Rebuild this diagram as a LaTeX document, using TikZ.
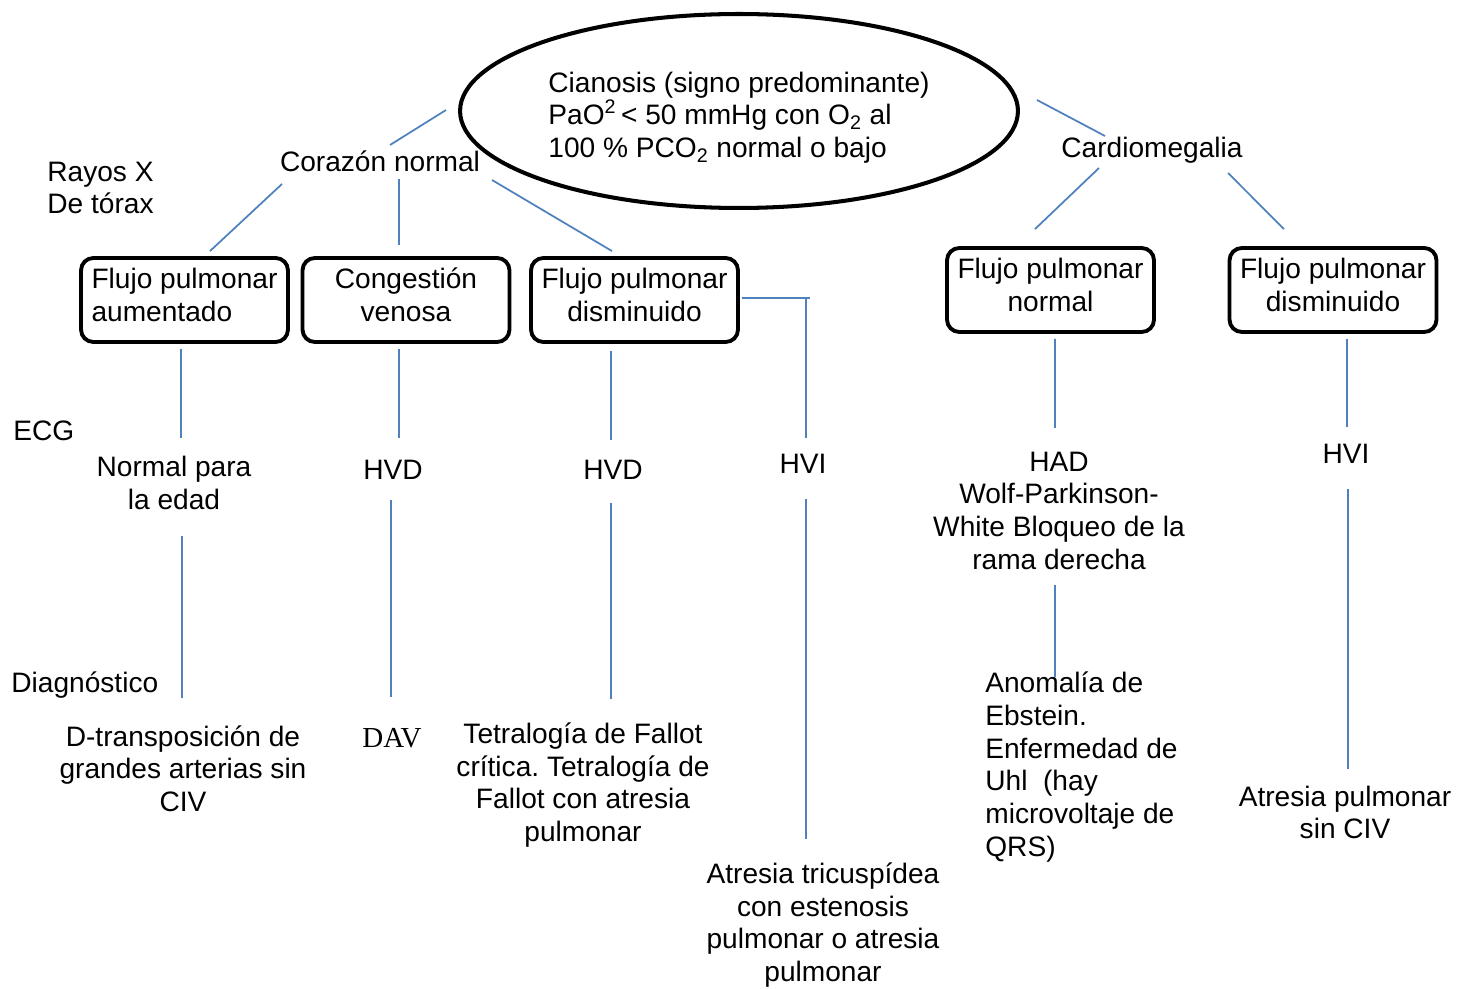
\documentclass[tikz,border=0pt]{standalone}
\usepackage{fontspec}
\setmainfont{Liberation Sans}
\newfontfamily\davfont{Liberation Serif}
\usetikzlibrary{shapes.geometric,calc}
\definecolor{linkblue}{RGB}{79,129,189}
\frenchspacing

\begin{document}
\begin{tikzpicture}[x=0.02cm,y=-0.02cm,
  every node/.style={font=\fontsize{16}{18.6}\selectfont,inner sep=0pt,align=center},
  box/.style={draw,rounded corners=7pt,line width=2.2pt,minimum width=4.14cm,minimum height=1.68cm,text depth=6pt},
  link/.style={draw=linkblue,line width=1pt}]
\useasboundingbox (0,0) rectangle (1473,989);
% top
\node[draw,ellipse,line width=2.3pt,minimum width=11.16cm,minimum height=3.88cm,align=left] (cia) at (739,111)
  {\rule{0pt}{19pt}Cianosis (signo predominante)\\PaO\textsuperscript{2}\,< 50 mmHg con O\textsubscript{2} al\\100 \% PCO\textsubscript{2} normal o bajo};
\node (cor) at (380,161) {Corazón normal};
\node (card) at (1152,150) {Cardiomegalia};
% row labels
\node[anchor=west,align=left] (rx) at (47,188) {Rayos X\\De tórax};
\node[anchor=west] (ecg) at (13,431) {ECG};
\node[anchor=west] (diag) at (11,685) {Diagnóstico};
% x-ray boxes
\node[box,align=left] (b1) at (184.5,300) {Flujo pulmonar\\aumentado};
\node[box] (b2) at (406,300) {Congestión\\venosa};
\node[box] (b3) at (634.5,300) {Flujo pulmonar\\disminuido};
\node[box] (b4) at (1050.5,290) {Flujo pulmonar\\normal};
\node[box] (b5) at (1333,290) {Flujo pulmonar\\disminuido};
% ECG
\node (e1) at (174,483) {Normal para\\la edad};
\node (e2) at (393,470) {HVD};
\node (e3) at (613,470) {HVD};
\node (e4) at (803,464) {HVI};
\node (e5) at (1059,510.5) {HAD\\Wolf-Parkinson-\\White Bloqueo de la\\rama derecha};
\node (e6) at (1346,454) {HVI};
% diagnosis
\node (d1) at (183,768.5) {D-transposición de\\grandes arterias sin\\CIV};
\node[font=\davfont\fontsize{16.5}{19}\selectfont] (d2) at (392,738) {DAV};
\node (d3) at (583,785) {Tetralogía de Fallot\\crítica. Tetralogía de\\Fallot con atresia\\pulmonar};
\node (d4) at (823,925) {Atresia tricuspídea\\con estenosis\\pulmonar o atresia\\pulmonar};
\node[anchor=west,align=left] (d5) at (985,767) {Anomalía de\\Ebstein.\\Enfermedad de\\Uhl\ \ (hay\\microvoltaje de\\QRS)};
\node (d6) at (1345,812.5) {Atresia pulmonar\\sin CIV};

% connectors
\draw[link] ($(cia.west)+(-12,-1)$) -- ($(cor.center)+(10,-16)$);
\draw[link] ($(cor.center)+(-98,23)$) -- ($(b1.north)+(25.5,-5)$);
\draw[link] ($(cor.center)+(19,18)$) -- ($(b2.north)+(-7,-11)$);
\draw[link] ($(cor.center)+(112,19)$) -- ($(b3.north)+(-22.5,-5)$);
\draw[link] ($(cia.east)+(17,-11)$) -- ($(card.center)+(-47,-14)$);
\draw[link] ($(card.center)+(-53,18)$) -- ($(b4.north)+(-15.5,-17)$);
\draw[link] ($(card.center)+(76,23)$) -- ($(b5.north)+(-49,-17)$);
\draw[link] ($(b1.south)+(-3.5,5)$) -- ($(e1.center)+(7,-45)$);
\draw[link] ($(b2.south)+(-7,5)$) -- ($(e2.center)+(6,-32)$);
\draw[link] ($(b3.south)+(-23.5,7)$) -- ($(e3.center)+(-2,-30)$);
\draw[link] ($(b3.east)+(2,-2)$) -- ++(68,0);
\draw[link] ($(b3.east)+(2,-2)$) -| ($(e4.center)+(3,-26)$);
\draw[link] ($(b4.south)+(4.5,5)$) -- ($(e5.center)+(-4,-82.5)$);
\draw[link] ($(b5.south)+(14,5)$) -- ($(e6.center)+(1,-27)$);
\draw[link] ($(e1.center)+(8,53)$) -- ($(d1.center)+(-1,-70.5)$);
\draw[link] ($(e2.center)+(-2,30)$) -- ($(d2.center)+(-1,-41)$);
\draw[link] ($(e3.center)+(-2,33)$) -- ($(d3.center)+(28,-86)$);
\draw[link] ($(e4.center)+(3,35)$) -- ($(d4.center)+(-17,-86)$);
\draw[link] ($(e5.center)+(-4,74.5)$) -- ($(d5.west)+(70,-90)$);
\draw[link] ($(e6.center)+(2,35)$) -- ($(d6.center)+(3,-43.5)$);
\end{tikzpicture}
\end{document}
